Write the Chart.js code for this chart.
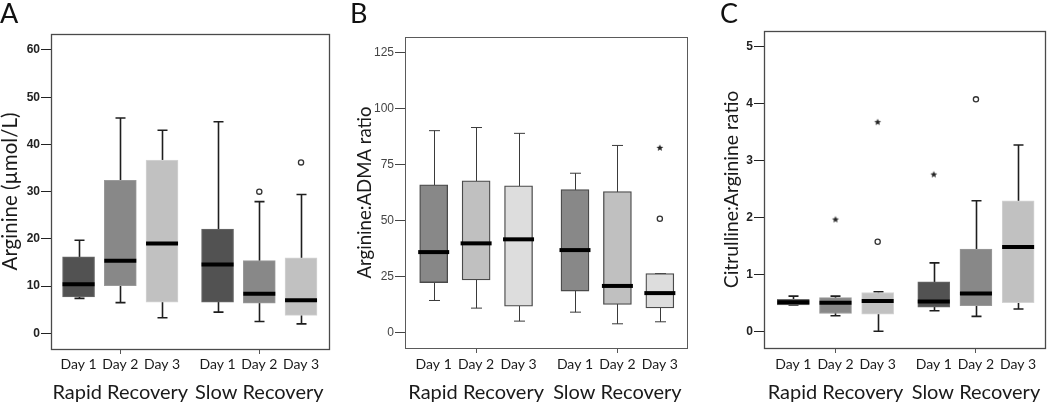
<!DOCTYPE html>
<html><head><meta charset="utf-8">
<script src="https://cdn.jsdelivr.net/npm/chart.js@4.4.0/dist/chart.umd.min.js"></script>
<style>
body{margin:0;background:#fff;width:1050px;height:403px;position:relative;overflow:hidden}
.p{position:absolute;top:0;height:403px}
</style></head><body>
<div class="p" style="left:0;width:340px"><canvas id="cA"></canvas></div>
<div class="p" style="left:350px;width:345px"><canvas id="cB"></canvas></div>
<div class="p" style="left:720px;width:330px"><canvas id="cC"></canvas></div>
<script>
// ---- shared categories ----
const dayLabels = ['Day 1','Day 2','Day 3','Day 1','Day 2','Day 3'];
const groupLabels = ['Rapid Recovery','Slow Recovery'];
const boxPositions = [1, 2, 3, 4.33, 5.33, 6.33];
const groupPositions = [2, 5.33];

// ---- Panel A: Arginine (µmol/L) ----
const argTicks = [0,10,20,30,40,50,60];
const argLow    = [7.4, 6.5, 3.3, 4.5, 2.5, 2.0];
const argQ1     = [7.7, 10.1, 6.6, 6.6, 6.4, 3.8];
const argMedian = [10.4, 15.4, 19.0, 14.6, 8.4, 7.0];
const argQ3     = [16.2, 32.4, 36.7, 22.1, 15.4, 16.0];
const argHigh   = [19.7, 45.6, 43.0, 44.8, 27.9, 29.4];
const argCircles = [[4, 30.0], [5, 36.2]];
const argStars = [];

// ---- Panel B: Arginine:ADMA ratio ----
const ratioTicks = [0,25,50,75,100,125];
const ratioLow    = [14.4, 11.0, 5.2, 9.2, 4.0, 4.9];
const ratioQ1     = [22.4, 23.6, 11.9, 18.6, 12.6, 11.1];
const ratioMedian = [36.0, 39.9, 41.7, 36.9, 20.9, 17.7];
const ratioQ3     = [66.0, 67.8, 65.6, 63.9, 63.0, 26.4];
const ratioHigh   = [90.2, 91.6, 89.0, 71.2, 83.6, 26.4];
const ratioCircles = [[5, 50.9]];
const ratioStars = [[5, 82.5]];

// ---- Panel C: Citrulline:Arginine ratio ----
const citTicks = [0,1,2,3,4,5];
const citLow    = [0.47, 0.28, 0.01, 0.37, 0.27, 0.40];
const citQ1     = [0.47, 0.32, 0.31, 0.43, 0.46, 0.51];
const citMedian = [0.52, 0.51, 0.54, 0.53, 0.67, 1.49];
const citQ3     = [0.57, 0.60, 0.69, 0.875, 1.45, 2.30];
const citHigh   = [0.625, 0.625, 0.70, 1.21, 2.30, 3.28];
const citCircles = [[2, 1.58], [4, 4.08]];
const citStars = [[1, 1.97], [2, 3.68], [3, 2.76]];

function starImage(r, color){
  const s = Math.ceil(r*2+2);
  const c = document.createElement('canvas'); c.width = s; c.height = s;
  const g = c.getContext('2d'); g.fillStyle = color; g.beginPath();
  for (let i = 0; i < 10; i++) {
    const a = -Math.PI/2 + i*Math.PI/5; const rr = i % 2 ? r*0.45 : r;
    g.lineTo(s/2 + rr*Math.cos(a), s/2 + rr*Math.sin(a));
  }
  g.closePath(); g.fill(); return c;
}

function boxPlugin(st){
  return {
    id: 'boxDecor',
    beforeDatasetsDraw(chart){
      const {ctx, scales:{x, y}} = chart;
      ctx.save();
      ctx.strokeStyle = st.whiskerColor; ctx.lineWidth = st.whiskerWidth; ctx.lineCap = 'butt';
      boxPositions.forEach((p, i) => {
        const px = Math.round(x.getPixelForValue(p)) + 0.5;
        const yl = y.getPixelForValue(st.low[i]), yh = y.getPixelForValue(st.high[i]);
        ctx.beginPath();
        ctx.moveTo(px, yl); ctx.lineTo(px, yh);
        ctx.moveTo(px - st.cap/2, yl); ctx.lineTo(px + st.cap/2, yl);
        ctx.moveTo(px - st.cap/2, yh); ctx.lineTo(px + st.cap/2, yh);
        ctx.stroke();
      });
      ctx.restore();
    },
    afterDatasetsDraw(chart){
      const {ctx, scales:{x, y}} = chart;
      ctx.save();
      ctx.strokeStyle = '#000'; ctx.lineWidth = st.medianWidth;
      boxPositions.forEach((p, i) => {
        const px = x.getPixelForValue(p);
        const ym = y.getPixelForValue(st.median[i]);
        const hw = st.barThickness/2 + st.medianExtra;
        ctx.beginPath(); ctx.moveTo(px - hw, ym); ctx.lineTo(px + hw, ym); ctx.stroke();
      });
      ctx.restore();
    },
    afterDraw(chart){
      const {ctx, chartArea:a} = chart;
      ctx.save(); ctx.strokeStyle = st.frameColor; ctx.lineWidth = st.frameWidth;
      ctx.strokeRect(Math.round(a.left)+0.5, Math.round(a.top)+0.5, Math.round(a.right-a.left), Math.round(a.bottom-a.top));
      ctx.restore();
    }
  };
}

const tickFont = (bold) => ({family:"'Liberation Sans', Arial, sans-serif", size:12, weight: bold ? 'bold' : 'normal'});
const lato = (s) => ({family:"Lato, 'Open Sans', sans-serif", size:s, lineHeight:1.2});

function makePanel(id, c){
  const boxData = boxPositions.map((p, i) => ({x:p, y:[c.q1[i], c.q3[i]]}));
  const mapOut = (arr) => arr.map(([i, v]) => ({x: boxPositions[i], y: v}));
  const star = starImage(3.6, '#222');
  new Chart(document.getElementById(id), {
    type: 'bar',
    data: { datasets: [
      { type:'bar', data: boxData, backgroundColor: c.colors, borderColor: c.borderColors,
        borderWidth: c.borderWidth, borderSkipped: false, barThickness: c.barThickness, order: 2 },
      { type:'scatter', data: mapOut(c.circles), pointStyle:'circle', pointRadius: 2.6,
        pointBackgroundColor:'#fff', pointBorderColor:'#333', pointBorderWidth:1.3, order: 1 },
      { type:'scatter', data: mapOut(c.stars), pointStyle: star, pointRadius: 4, order: 1 }
    ]},
    options: {
      responsive: true, maintainAspectRatio: false, animation: false,
      layout: { padding: { left: 0, right: c.padRight, top: 0, bottom: 0 } },
      plugins: {
        legend: { display: false }, tooltip: { enabled: false },
        title: { display: true, text: c.letter, align: 'start', color: '#111',
          font: {family:"Lato, 'Open Sans', sans-serif", size:27, weight:'normal', lineHeight:1},
          padding: { top: 1, bottom: c.letterPad } }
      },
      scales: {
        x: {
          type: 'linear', position: 'bottom', min: c.xMin, max: c.xMax, bounds: 'data', weight: 0, offset: false,
          afterBuildTicks: (s) => { s.ticks = boxPositions.map(v => ({value: v})); },
          afterFit: (s) => { s.height = 24; },
          grid: { display: true, offset: false, drawOnChartArea: false, drawTicks: true, tickLength: 5, tickWidth: 1,
            tickColor: (ctx) => (ctx.tick && groupPositions.includes(ctx.tick.value)) ? '#555' : 'rgba(0,0,0,0)' },
          border: { display: false },
          ticks: { autoSkip: false, maxRotation: 0, minRotation: 0, padding: c.dayPad, color: '#1a1a1a',
            font: lato(14), callback: (v, i) => dayLabels[i] }
        },
        xg: {
          type: 'linear', position: 'bottom', min: c.xMin, max: c.xMax, bounds: 'data', weight: 10, offset: false,
          afterBuildTicks: (s) => { s.ticks = groupPositions.map(v => ({value: v})); },
          afterFit: (s) => { s.height = c.groupH; },
          grid: { display: false, offset: false }, border: { display: false },
          ticks: { autoSkip: false, maxRotation: 0, minRotation: 0, padding: c.groupPad, color: '#1a1a1a',
            font: lato(20), callback: (v, i) => groupLabels[i] }
        },
        y: {
          type: 'linear', position: 'left', min: c.yMin, max: c.yMax, bounds: 'data',
          afterBuildTicks: (s) => { s.ticks = c.yTicks.map(v => ({value: v})); },
          afterFit: (s) => { s.width = c.yWidth; },
          grid: { display: true, drawOnChartArea: false, drawTicks: true, tickLength: 10, tickWidth: 1, tickColor: c.tickColor },
          border: { display: false },
          ticks: { padding: 1, color: c.tickColor, font: tickFont(c.boldTicks) },
          title: { display: true, text: c.yTitle, color: '#1a1a1a',
            font: {family:"Lato, 'Open Sans', sans-serif", size: c.yTitleSize, lineHeight: 1},
            padding: { top: c.yTitlePad, bottom: 0 } }
        }
      }
    },
    plugins: [boxPlugin({low: c.low, high: c.high, median: c.median, cap: c.cap,
      whiskerColor: c.whiskerColor, whiskerWidth: c.whiskerWidth, medianWidth: 4,
      medianExtra: c.medianExtra, barThickness: c.barThickness,
      frameColor: c.frameColor, frameWidth: c.frameWidth})]
  });
}

makePanel('cA', {
  letter: 'A', letterPad: 6, yTitle: 'Arginine (µmol/L)', yTitleSize: 20.5, yTitlePad: 0, yWidth: 51, padRight: 11,
  yMin: -3.31, yMax: 63.38, yTicks: argTicks, xMin: 0.34, xMax: 7.0, groupH: 30, dayPad: 2, groupPad: 0,
  low: argLow, q1: argQ1, median: argMedian, q3: argQ3, high: argHigh, circles: argCircles, stars: argStars,
  colors: ['#525252','#888888','#c1c1c1','#525252','#888888','#c1c1c1'],
  borderColors: ['#6a6a6a','#9a9a9a','#d4d4d4','#6a6a6a','#9a9a9a','#d4d4d4'], borderWidth: 1,
  barThickness: 32, cap: 10, whiskerColor: '#1e1e1e', whiskerWidth: 1.6, medianExtra: 0,
  frameColor: '#4a4a4a', frameWidth: 1.3, tickColor: '#222', boldTicks: true
});

makePanel('cB', {
  letter: 'B', letterPad: 9, yTitle: 'Arginine:ADMA ratio', yTitleSize: 18.6, yTitlePad: 6, yWidth: 55, padRight: 8,
  yMin: -6.8, yMax: 132.0, yTicks: ratioTicks, xMin: 0.324, xMax: 6.97, groupH: 31, dayPad: 3, groupPad: 1,
  low: ratioLow, q1: ratioQ1, median: ratioMedian, q3: ratioQ3, high: ratioHigh, circles: ratioCircles, stars: ratioStars,
  colors: ['#888888','#c0c0c0','#dddddd','#888888','#c0c0c0','#dddddd'],
  borderColors: '#4a4a4a', borderWidth: 1.3,
  barThickness: 28, cap: 11, whiskerColor: '#3a3a3a', whiskerWidth: 1, medianExtra: 1.5,
  frameColor: '#5a5a5a', frameWidth: 1, tickColor: '#444', boldTicks: false
});

makePanel('cC', {
  letter: 'C', letterPad: 3, yTitle: 'Citrulline:Arginine ratio', yTitleSize: 19.4, yTitlePad: 2, yWidth: 44, padRight: 5,
  yMin: -0.285, yMax: 5.28, yTicks: citTicks, xMin: 0.305, xMax: 6.96, groupH: 31, dayPad: 3, groupPad: 1,
  low: citLow, q1: citQ1, median: citMedian, q3: citQ3, high: citHigh, circles: citCircles, stars: citStars,
  colors: ['#525252','#888888','#c1c1c1','#525252','#888888','#c1c1c1'],
  borderColors: ['#6a6a6a','#9a9a9a','#d4d4d4','#6a6a6a','#9a9a9a','#d4d4d4'], borderWidth: 1,
  barThickness: 32, cap: 10, whiskerColor: '#1e1e1e', whiskerWidth: 1.6, medianExtra: 0,
  frameColor: '#4a4a4a', frameWidth: 1.3, tickColor: '#222', boldTicks: true
});
</script>
</body></html>
